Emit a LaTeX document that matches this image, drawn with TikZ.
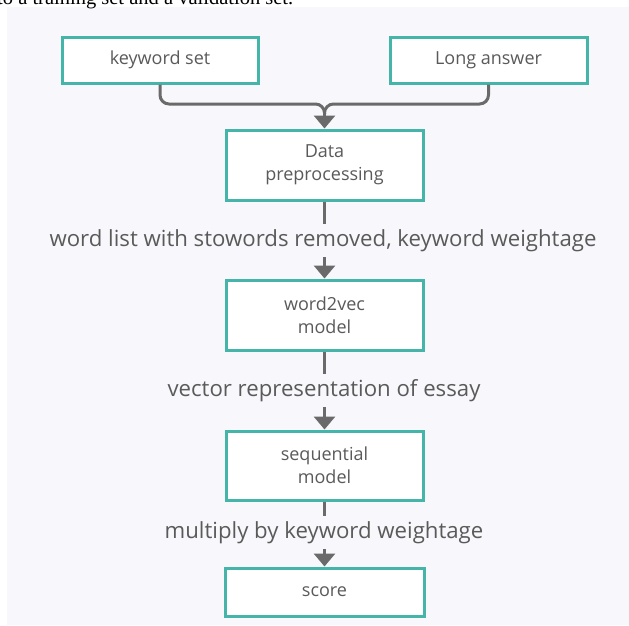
\documentclass[tikz,border=0pt]{standalone}
\usepackage{fontspec}
\setmainfont{Open Sans}
\newfontfamily\serifsrc{Liberation Serif}
\usetikzlibrary{arrows.meta}
\definecolor{tealc}{HTML}{45B5AA}
\definecolor{txtc}{HTML}{5A5A5A}
\definecolor{linec}{HTML}{6A6A6A}
\definecolor{panelc}{HTML}{F8F8FC}
\tikzset{
  x=1pt, y=1pt,
  procbox/.style={draw=tealc, line width=3pt, fill=white, text=txtc,
    align=center, inner sep=0pt, font=\fontsize{18}{23}\selectfont},
  lbl/.style={text=txtc, inner sep=0pt, font=\fontsize{22.2}{26}\selectfont},
  conn/.style={draw=linec, line width=3pt},
  arr/.style={conn, -{Triangle[width=21pt,length=13pt]}},
}
\begin{document}
\begin{tikzpicture}
\useasboundingbox (0,0) rectangle (629,-625);
\clip (0,0) rectangle (629,-625);
\fill[white] (0,0) rectangle (629,-625);
\fill[panelc] (7,-7) rectangle (629,-625);
\node[anchor=base west, inner sep=0pt, font=\serifsrc\fontsize{20.5}{24}\selectfont] (cap) at (-3,-4) {to a training set and a validation set.};

\node[procbox, minimum width=196pt, minimum height=46pt] (kw) at (160,-60) {keyword set};
\node[procbox, minimum width=197pt, minimum height=46pt] (la) at (488.5,-60) {Long answer};
\node[procbox, minimum width=197pt, minimum height=70pt] (dp) at (324.5,-165) {Data\\preprocessing};
\node[procbox, minimum width=197pt, minimum height=70pt] (wv) at (324.5,-315) {word2vec\\model};
\node[procbox, minimum width=197pt, minimum height=69pt] (sq) at (324.5,-465.5) {sequential\\model};
\node[procbox, minimum width=199pt, minimum height=48pt] (sc) at (324.5,-592) {score};

\node[lbl] (l1) at (323,-241) {word list with stowords removed, keyword weightage};
\node[lbl] (l2) at (324,-391) {vector representation of essay};
\node[lbl] (l3) at (324,-533) {multiply by keyword weightage};

\coordinate (m) at (324.5,-104);
\coordinate (m2) at (324.5,-114);
\draw[conn, rounded corners=9pt] (kw.south) |- (m) -- (m2);
\draw[conn, rounded corners=9pt] (la.south) |- (m) -- (m2);
\draw[arr] (m2) -- (dp.north);

\draw[conn] (dp.south) -- ([yshift=6pt]l1.north -| dp.south);
\draw[arr] ([yshift=-5pt]l1.south -| dp.south) -- (wv.north);
\draw[conn] (wv.south) -- ([yshift=6pt]l2.north -| wv.south);
\draw[arr] ([yshift=-5pt]l2.south -| wv.south) -- (sq.north);
\draw[conn] (sq.south) -- ([yshift=6pt]l3.north -| sq.south);
\draw[arr] ([yshift=-5pt]l3.south -| sq.south) -- (sc.north);
\end{tikzpicture}
\end{document}
